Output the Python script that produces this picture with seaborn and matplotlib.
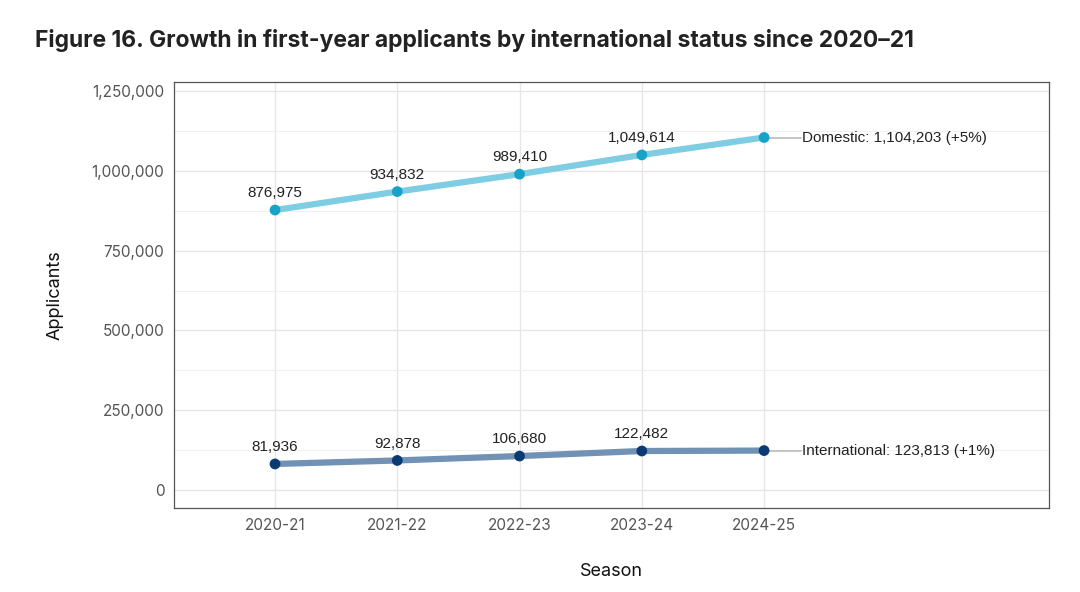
import numpy as np
import pandas as pd
import matplotlib
matplotlib.use("Agg")
import matplotlib.pyplot as plt
import seaborn as sns
from matplotlib.ticker import FuncFormatter, MultipleLocator

# === Data ===
seasons = ["2020-21", "2021-22", "2022-23", "2023-24", "2024-25"]
domestic = [876975, 934832, 989410, 1049614, 1104203]
international = [81936, 92878, 106680, 122482, 123813]
end_labels = ["Domestic: 1,104,203 (+5%)", "International: 123,813 (+1%)"]

df = pd.DataFrame({
    "season": seasons * 2,
    "idx": list(range(len(seasons))) * 2,
    "status": ["Domestic"] * len(seasons) + ["International"] * len(seasons),
    "applicants": domestic + international,
})

line_colors = {"Domestic": "#7ecde2", "International": "#7191b5"}
point_colors = {"Domestic": "#17a2c8", "International": "#0b3a72"}

# === Plot ===
sns.set_theme(style="whitegrid")
plt.rcParams["font.family"] = ["Inter", "DejaVu Sans"]

fig = plt.figure(figsize=(10.8, 5.92), dpi=100)
ax = fig.add_axes([174 / 1080, 1 - 508 / 592, (1049 - 174) / 1080, (508 - 82) / 592])

sns.lineplot(data=df, x="idx", y="applicants", hue="status", palette=line_colors,
             linewidth=4.5, legend=False, ax=ax, zorder=2)
sns.scatterplot(data=df, x="idx", y="applicants", hue="status", palette=point_colors,
                s=60, edgecolor="none", legend=False, ax=ax, zorder=3)

# value labels above points (except last)
for status in ["Domestic", "International"]:
    sub = df[df["status"] == status]
    for _, r in sub.iloc[:-1].iterrows():
        ax.annotate(f"{r['applicants']:,}", (r["idx"], r["applicants"]),
                    xytext=(0, 7), textcoords="offset points", ha="center", va="bottom",
                    fontsize=11, color="#222222", family=["Liberation Sans", "DejaVu Sans"])

# end labels with leader lines
for status, label in zip(["Domestic", "International"], end_labels):
    last = df[df["status"] == status].iloc[-1]
    x0, y0 = last["idx"], last["applicants"]
    ax.plot([x0, x0 + 0.3], [y0, y0], color="#bbbbbb", lw=1.2, zorder=1)
    ax.text(x0 + 0.31, y0, label, ha="left", va="center", fontsize=11,
            color="#222222", family=["Liberation Sans", "DejaVu Sans"])

ax.set_xlim(-0.826, 6.33)
ax.set_ylim(-56000, 1278000)
ax.set_xticks(range(len(seasons)))
ax.set_xticklabels(seasons)
ax.yaxis.set_major_locator(MultipleLocator(250000))
ax.yaxis.set_minor_locator(MultipleLocator(125000))
ax.yaxis.set_major_formatter(FuncFormatter(lambda v, p: f"{int(v):,}"))

ax.grid(which="major", color="#e6e6e6", lw=1.0)
ax.grid(which="minor", axis="y", color="#f0f0f0", lw=0.8)
ax.set_axisbelow(True)
for sp in ax.spines.values():
    sp.set_color("#555555")
    sp.set_linewidth(0.9)
ax.tick_params(axis="both", which="major", length=4, width=0.9, color="#333333",
               labelsize=11, labelcolor="#555555", pad=3)
ax.tick_params(axis="both", which="minor", length=0)

ax.set_xlabel("Season", fontsize=13, color="#111111", labelpad=22)
ax.set_ylabel("Applicants", fontsize=13, color="#111111", labelpad=20)

fig.text(35 / 1080, 1 - 40 / 592, "Figure 16. Growth in first-year applicants by international status since 2020\u201321",
         fontsize=16.5, fontweight="bold", color="#222222", ha="left", va="center")

fig.savefig("out.png", dpi=100)
